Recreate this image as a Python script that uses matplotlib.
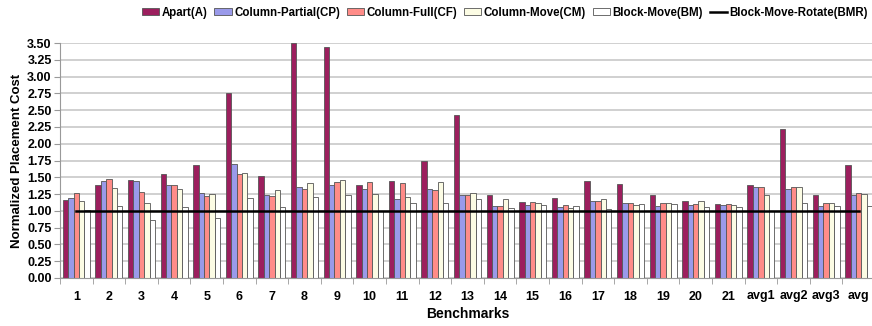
import matplotlib
matplotlib.use("Agg")
import matplotlib.pyplot as plt
import numpy as np
from matplotlib.lines import Line2D
from matplotlib.patches import Patch

categories = [str(i) for i in range(1, 22)] + ["avg1", "avg2", "avg3", "avg"]

apart = [1.16, 1.39, 1.46, 1.55, 1.68, 2.76, 1.52, 3.50, 3.44, 1.38, 1.45, 1.74, 2.43,
         1.23, 1.13, 1.19, 1.45, 1.40, 1.24, 1.14, 1.10, 1.39, 2.22, 1.24, 1.69]
col_partial = [1.19, 1.44, 1.45, 1.38, 1.26, 1.70, 1.23, 1.36, 1.39, 1.32, 1.18, 1.32, 1.24,
               1.07, 1.08, 1.06, 1.15, 1.12, 1.07, 1.08, 1.08, 1.36, 1.33, 1.07, 1.24]
col_full = [1.27, 1.48, 1.28, 1.39, 1.22, 1.55, 1.22, 1.33, 1.43, 1.43, 1.42, 1.31, 1.24,
            1.07, 1.13, 1.09, 1.14, 1.12, 1.12, 1.10, 1.10, 1.36, 1.35, 1.11, 1.26]
col_move = [1.15, 1.34, 1.11, 1.32, 1.25, 1.57, 1.31, 1.42, 1.46, 1.25, 1.20, 1.43, 1.27,
            1.18, 1.11, 1.04, 1.18, 1.09, 1.12, 1.14, 1.08, 1.24, 1.36, 1.11, 1.25]
block_move = [1.02, 1.07, 0.87, 1.06, 0.89, 1.19, 1.06, 1.20, 1.23, 1.00, 1.11, 1.12, 1.17,
              1.05, 1.08, 1.07, 1.03, 1.10, 1.10, 1.06, 1.06, 1.00, 1.11, 1.07, 1.07]
block_move_rotate = [1.00] * len(categories)

series_names = ["Apart(A)", "Column-Partial(CP)", "Column-Full(CF)",
                "Column-Move(CM)", "Block-Move(BM)"]
series_vals = [apart, col_partial, col_full, col_move, block_move]
colors = ["#9c1f5e", "#9a9aea", "#ff8c88", "#fcfce4", "#ffffff"]

plt.rcParams['font.family'] = ['Liberation Sans', 'DejaVu Sans']

fig = plt.figure(figsize=(8.72, 3.26), dpi=100)
W, H = 872, 326
ax = fig.add_axes([60 / W, (H - 278) / H, 815 / W, (278 - 43) / H])

x = np.arange(len(categories))
bw = 0.166
for i, (name, vals, c) in enumerate(zip(series_names, series_vals, colors)):
    ax.bar(x + (i - 2) * bw, vals, width=bw, color=c, edgecolor="#555555",
           linewidth=0.6, label=name, zorder=2)

ax.plot(x, block_move_rotate, color="black", linewidth=1.8, zorder=3,
        label="Block-Move-Rotate(BMR)")

ax.set_xlim(-0.5, len(categories) - 0.5)
ax.set_ylim(0, 3.5)
yt = np.arange(0, 3.51, 0.25)
ax.set_yticks(yt)
ax.set_yticklabels([f"{v:.2f}" for v in yt], fontsize=9, fontweight="bold")
ax.set_xticks(x)
ax.set_xticklabels(categories, fontsize=9, fontweight="bold")
ax.set_xticks(np.arange(-0.5, len(categories), 1), minor=True)
ax.tick_params(axis="x", which="major", length=0, pad=9)
ax.tick_params(axis="x", which="minor", length=4, color="#999999")
ax.tick_params(axis="y", length=4, color="#999999", pad=2)
ax.yaxis.grid(True, color="#c4c4c4", linewidth=1.1, zorder=0)
ax.set_axisbelow(True)
for s in ["top", "right"]:
    ax.spines[s].set_visible(False)
ax.spines["left"].set_color("#999999")
ax.spines["bottom"].set_color("#999999")

ax.set_ylabel("Normalized Placement Cost", fontsize=9.5, fontweight="bold", labelpad=3)
ax.set_xlabel("Benchmarks", fontsize=10, fontweight="bold", labelpad=3)

handles = [Patch(facecolor=c, edgecolor="#555555", linewidth=0.6) for c in colors]
handles.append(Line2D([], [], color="black", linewidth=1.8))
labels = series_names + ["Block-Move-Rotate(BMR)"]
fig.legend(handles, labels, loc="center right", bbox_to_anchor=(868 / W, 1 - 13 / H), ncol=6,
           frameon=False, prop={"weight": "bold", "size": 8.3},
           handlelength=1.5, handleheight=0.55, handletextpad=0.2, columnspacing=0.6,
           borderaxespad=0, borderpad=0)

fig.savefig("out.png", dpi=100)
